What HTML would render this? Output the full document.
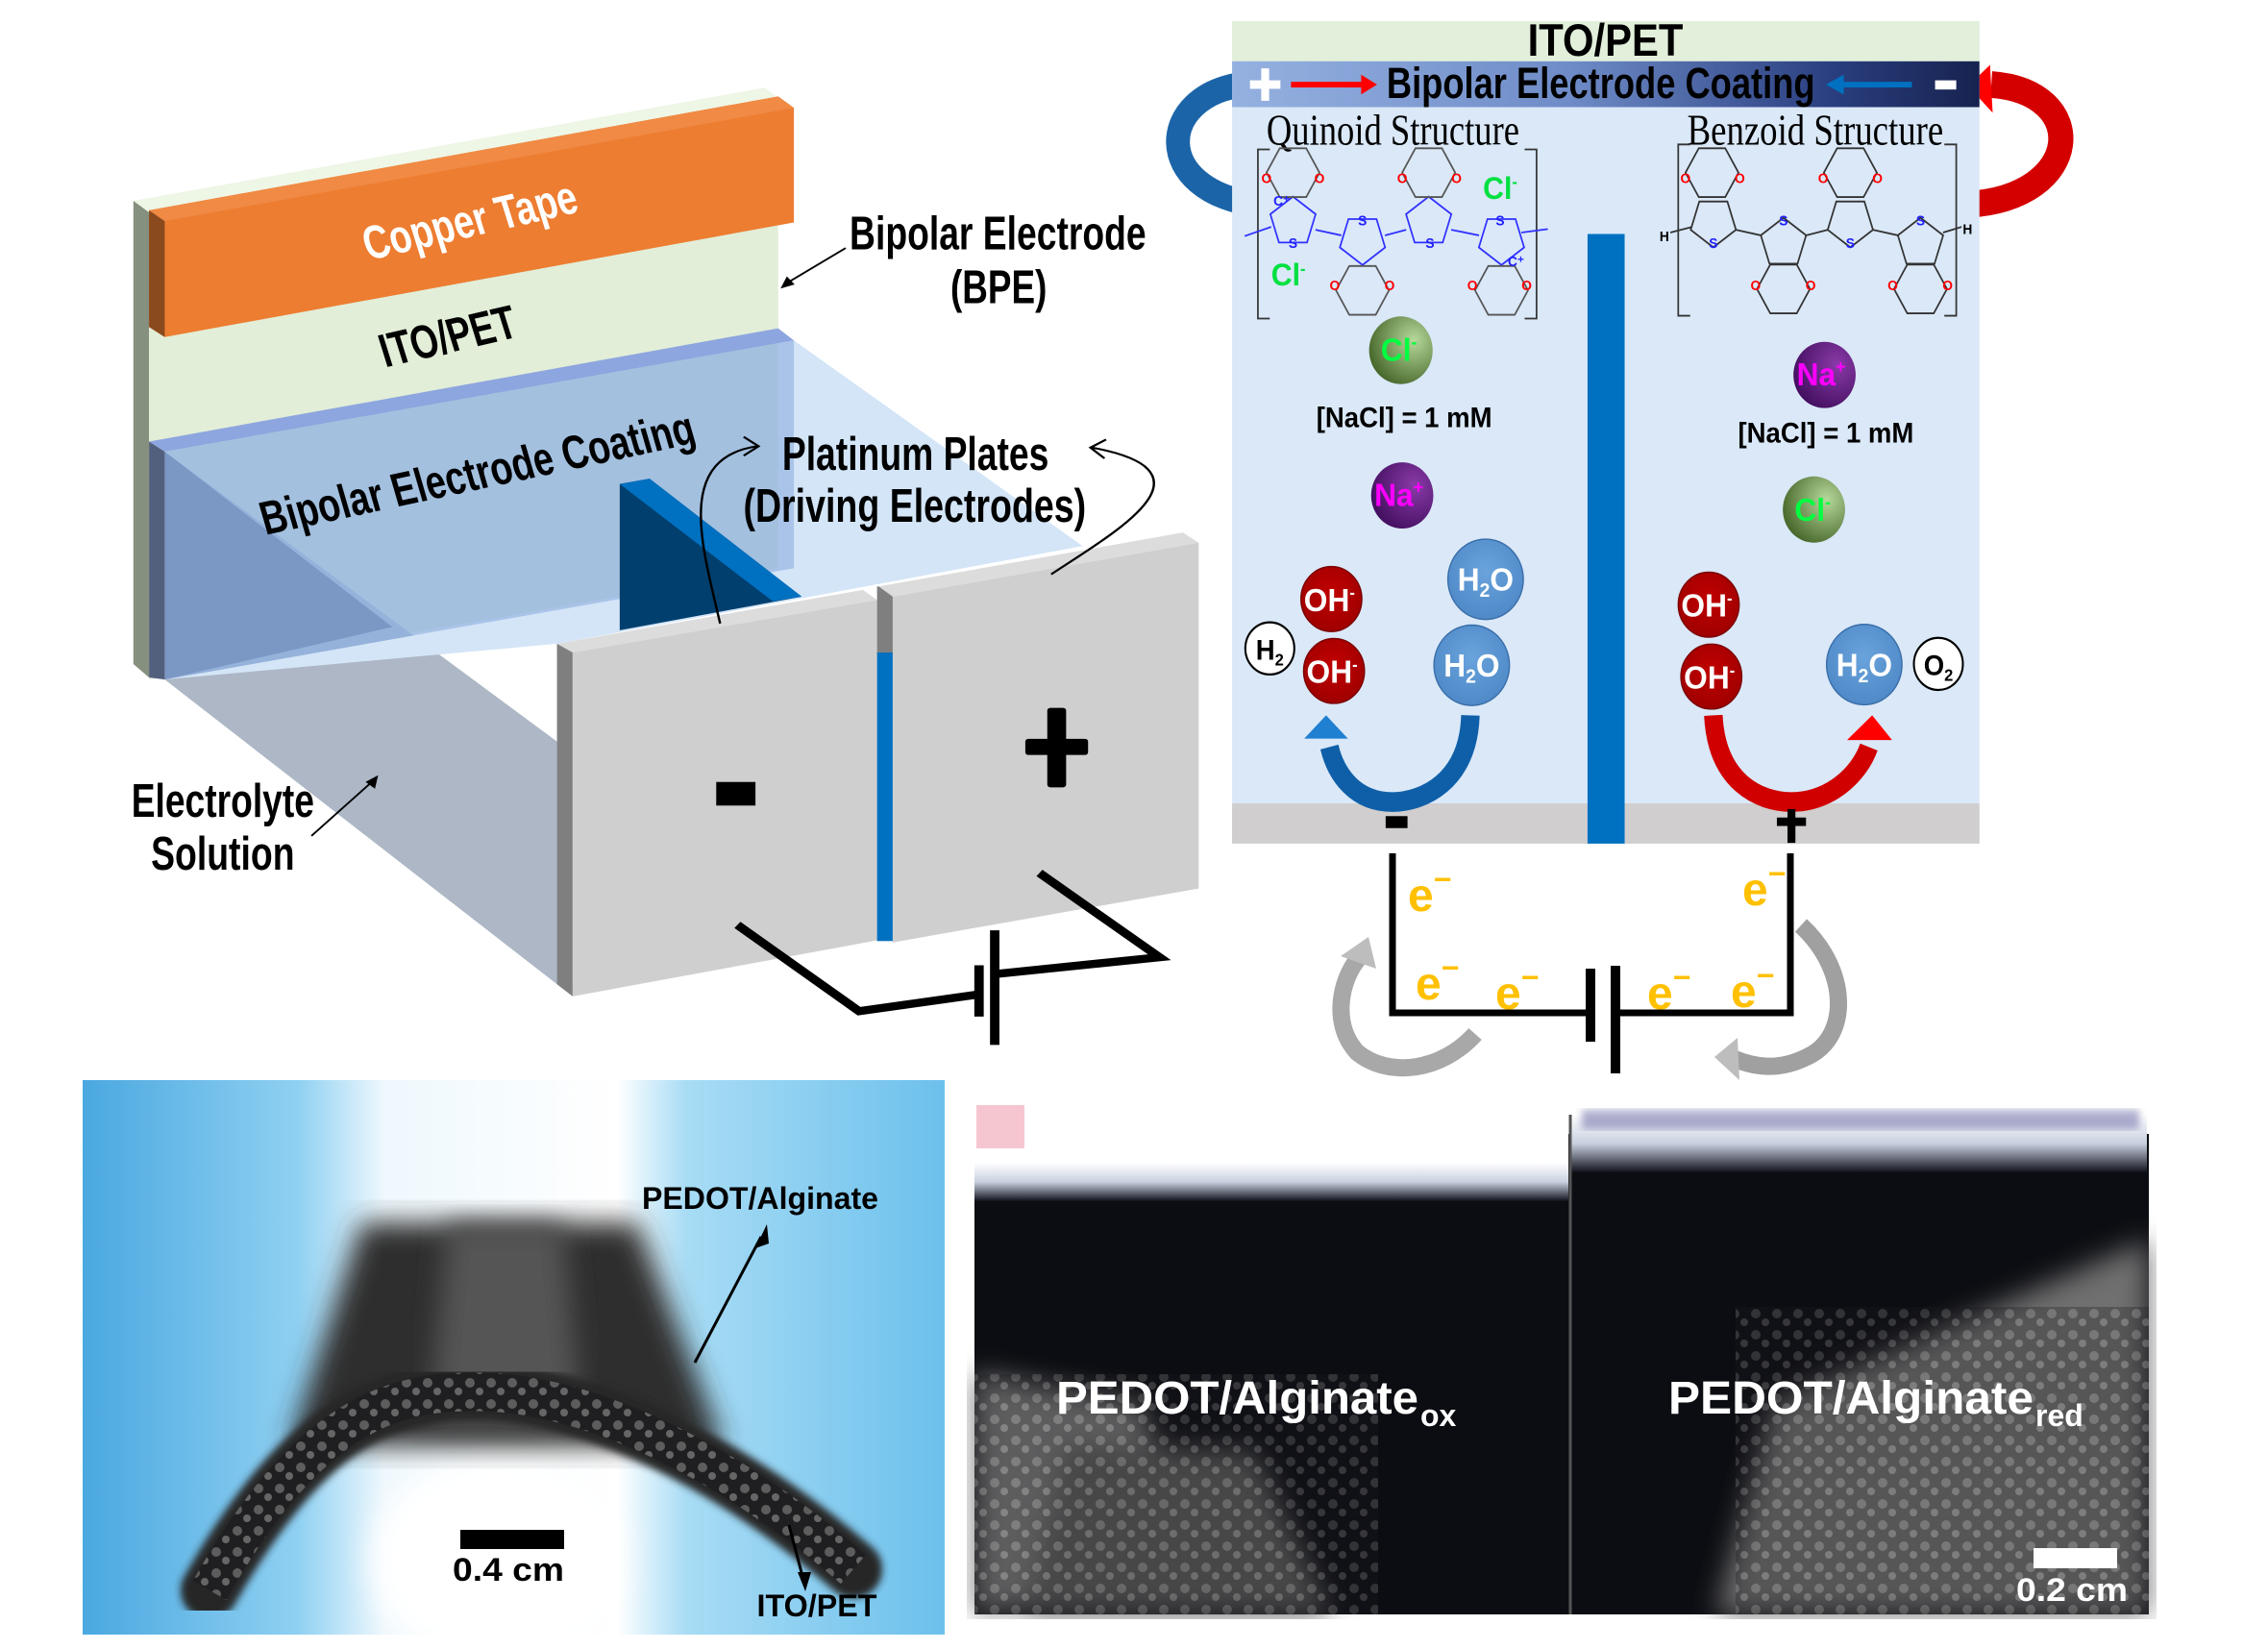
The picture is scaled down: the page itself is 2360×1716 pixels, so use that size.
<!DOCTYPE html>
<html><head><meta charset="utf-8"><style>
html,body{margin:0;padding:0;background:#fff;}
svg{display:block;}
text{font-family:"Liberation Sans",Arial,sans-serif;}
</style></head><body>
<svg width="2360" height="1716" viewBox="0 0 2360 1716" xmlns="http://www.w3.org/2000/svg">
<defs>
<linearGradient id="coat" x1="0" x2="1" y1="0" y2="0">
<stop offset="0" stop-color="#95b1e0"/><stop offset="0.45" stop-color="#6f8cc8"/><stop offset="0.8" stop-color="#2a3f80"/><stop offset="1" stop-color="#17224f"/></linearGradient>
<radialGradient id="gCl" cx="0.7" cy="0.35" r="0.8"><stop offset="0" stop-color="#b6d89a"/><stop offset="1" stop-color="#3e5e22"/></radialGradient>
<radialGradient id="gNa" cx="0.7" cy="0.35" r="0.8"><stop offset="0" stop-color="#8a3aa8"/><stop offset="1" stop-color="#3d0c5a"/></radialGradient>
<radialGradient id="gOH" cx="0.5" cy="0.4" r="0.7"><stop offset="0" stop-color="#c00000"/><stop offset="1" stop-color="#9a0000"/></radialGradient>
<radialGradient id="gH2O" cx="0.5" cy="0.4" r="0.7"><stop offset="0" stop-color="#6aa3dc"/><stop offset="1" stop-color="#4a85c4"/></radialGradient>
<linearGradient id="bgL" x1="0" x2="1"><stop offset="0" stop-color="#4aa8e0"/><stop offset="0.25" stop-color="#8fd0f2"/><stop offset="0.35" stop-color="#eef8fd"/><stop offset="0.62" stop-color="#ffffff"/><stop offset="0.7" stop-color="#a8dcf5"/><stop offset="1" stop-color="#6cc0ec"/></linearGradient>
<filter id="blur12"><feGaussianBlur stdDeviation="14"/></filter>
<filter id="blur4"><feGaussianBlur stdDeviation="4"/></filter>
<pattern id="spk" width="22" height="22" patternUnits="userSpaceOnUse">
<rect width="22" height="22" fill="#1a1a1e"/><circle cx="7" cy="7" r="5" fill="#8a8a8a"/><circle cx="17" cy="16" r="4" fill="#9a9a9a"/></pattern>
<polygon id="pent" points="0,-36 34.2,-11.1 21.2,29.1 -21.2,29.1 -34.2,-11.1" fill="none" stroke-width="2.5"/>
<polygon id="pentd" points="0,36 34.2,11.1 21.2,-29.1 -21.2,-29.1 -34.2,11.1" fill="none" stroke-width="2.5"/>
<polygon id="hex" points="40,0 20,34.6 -20,34.6 -40,0 -20,-34.6 20,-34.6" fill="none" stroke-width="2.5"/>
</defs>
<rect width="2360" height="1716" fill="#fff"/>

<!-- LEFT 3D DIAGRAM -->
<g transform="scale(0.8163,0.7015)">
<polygon points="170,298 975,130 995,148 190,315" fill="#eef6e6"/>
<polygon points="170,298 190,315 190,1005 170,985" fill="#86907e"/>
<polygon points="190,315 992,143 992,843 190,1008" fill="#e2eed8"/>
<polygon points="210,1008 710,1460 710,1100 210,670" fill="#adb7c6"/>
<polygon points="1012,505 1380,810 710,955 210,1008 1012,843" fill="#d3e5f7"/>
<polygon points="190,655 992,487 1012,505 210,670" fill="#8ea6df"/>
<polygon points="210,670 1012,505 1012,843 210,1008" fill="#8eb0e2" opacity="0.75"/>
<polygon points="190,655 210,670 210,1008 190,1005" fill="#52607e"/>
<polygon points="210,670 500,930 210,1008" fill="#5a76a8" opacity="0.45"/>
<polygon points="190,312 992,143 1012,160 1012,330 210,500 190,485" fill="#ed7d31"/>
<polygon points="190,312 210,325 210,500 190,485" fill="#8a4a1e"/>
<polygon points="190,312 992,143 1012,160 210,328" fill="#f08a44"/>
<text transform="translate(605,350) rotate(-15)" text-anchor="middle" font-size="70" font-weight="bold" fill="#fff" textLength="280" lengthAdjust="spacingAndGlyphs">Copper Tape</text>
<text transform="translate(577,522) rotate(-15)" text-anchor="middle" font-size="70" font-weight="bold" fill="#000" textLength="178" lengthAdjust="spacingAndGlyphs">ITO/PET</text>
<text transform="translate(614,725) rotate(-14)" text-anchor="middle" font-size="70" font-weight="bold" fill="#000" textLength="568" lengthAdjust="spacingAndGlyphs">Bipolar Electrode Coating</text>
<polygon points="790,718 828,710 1022,885 790,935" fill="#003f6e"/>
<polygon points="790,718 828,710 1022,885 985,892" fill="#0070c0"/>
<polygon points="710,955 1100,875 1118,890 730,968" fill="#dcdcdc"/>
<polygon points="710,955 730,968 730,1478 710,1460" fill="#7f7f7f"/>
<polygon points="730,968 1118,890 1118,1395 730,1478" fill="#d0cfcf"/>
<rect x="1118" y="870" width="20" height="100" fill="#7f7f7f"/>
<rect x="1118" y="968" width="20" height="428" fill="#0070c0"/>
<polygon points="1120,870 1508,790 1528,805 1138,885" fill="#dcdcdc"/>
<polygon points="1138,885 1528,805 1528,1318 1138,1398" fill="#d0cfcf"/>
<rect x="913" y="1160" width="50" height="35" fill="#000"/>
<rect x="1307" y="1096" width="80" height="24" rx="4" fill="#000"/>
<rect x="1335" y="1050" width="24" height="118" rx="4" fill="#000"/>
<polyline points="940,1372 1095,1500 1248,1475" fill="none" stroke="#000" stroke-width="12"/>
<polyline points="1268,1445 1478,1420 1325,1295" fill="none" stroke="#000" stroke-width="12"/>
<line x1="1248" y1="1432" x2="1248" y2="1508" stroke="#000" stroke-width="12"/>
<line x1="1268" y1="1380" x2="1268" y2="1550" stroke="#000" stroke-width="12"/>
<text x="1272" y="370" text-anchor="middle" font-size="70" font-weight="bold" textLength="378" lengthAdjust="spacingAndGlyphs">Bipolar Electrode</text>
<text x="1273" y="450" text-anchor="middle" font-size="70" font-weight="bold" textLength="123" lengthAdjust="spacingAndGlyphs">(BPE)</text>
<line x1="1078" y1="368" x2="1003" y2="420" stroke="#000" stroke-width="2.5"/>
<polygon points="995,428 1003,410 1013,422" fill="#000"/>
<text x="1167" y="697" text-anchor="middle" font-size="70" font-weight="bold" textLength="340" lengthAdjust="spacingAndGlyphs">Platinum Plates</text>
<text x="1166" y="774" text-anchor="middle" font-size="70" font-weight="bold" textLength="437" lengthAdjust="spacingAndGlyphs">(Driving Electrodes)</text>
<path d="M918,925 C895,810 860,680 965,662" fill="none" stroke="#000" stroke-width="3"/>
<polyline points="948,648 967,662 948,676" fill="none" stroke="#000" stroke-width="3"/>
<path d="M1340,852 C1420,790 1560,700 1392,664" fill="none" stroke="#000" stroke-width="3"/>
<polyline points="1410,652 1390,664 1408,680" fill="none" stroke="#000" stroke-width="3"/>
<text x="284" y="1212" text-anchor="middle" font-size="70" font-weight="bold" textLength="233" lengthAdjust="spacingAndGlyphs">Electrolyte</text>
<text x="284" y="1290" text-anchor="middle" font-size="70" font-weight="bold" textLength="183" lengthAdjust="spacingAndGlyphs">Solution</text>
<line x1="397" y1="1240" x2="474" y2="1160" stroke="#000" stroke-width="2.5"/>
<polygon points="482,1150 478,1170 466,1160" fill="#000"/>
</g>

<!-- RIGHT SCHEMATIC -->
<g transform="translate(1280,0) scale(0.6888,0.7334)">
<path d="M40,290 C-120,270 -110,135 20,120" fill="none" stroke="#1b64a8" stroke-width="36"/>
<polygon points="10,88 40,122 10,156" fill="#1b7fd0"/>
<path d="M1115,290 C1290,280 1300,130 1150,120" fill="none" stroke="#d40000" stroke-width="38"/>
<polygon points="1148,92 1115,122 1152,160" fill="#ff0000"/>
<rect x="3" y="30" width="1129" height="1167" fill="#dae8f8"/>
<rect x="3" y="30" width="1129" height="57" fill="#e2efda"/>
<text x="567" y="79" text-anchor="middle" font-size="64" font-weight="bold" textLength="235" lengthAdjust="spacingAndGlyphs">ITO/PET</text>
<rect x="3" y="87" width="1129" height="65" fill="url(#coat)"/>
<rect x="30" y="114" width="46" height="12" fill="#fff"/><rect x="47" y="97" width="12" height="46" fill="#fff"/>
<line x1="92" y1="120" x2="200" y2="120" stroke="#ff0000" stroke-width="8"/><polygon points="198,106 222,120 198,134" fill="#ff0000"/>
<text x="560" y="139" text-anchor="middle" font-size="62" font-weight="bold" textLength="647" lengthAdjust="spacingAndGlyphs">Bipolar  Electrode  Coating</text>
<line x1="925" y1="120" x2="1030" y2="120" stroke="#0070c0" stroke-width="8"/><polygon points="927,106 900,120 927,134" fill="#0070c0"/>
<rect x="1065" y="114" width="32" height="13" fill="#fff"/>
<rect x="3" y="1140" width="1129" height="57" fill="#d0cece"/>
<rect x="540" y="332" width="56" height="865" fill="#0070c0"/>
<text x="246" y="205" text-anchor="middle" font-size="62" textLength="382" lengthAdjust="spacingAndGlyphs" style="font-family:'Liberation Serif',serif">Quinoid Structure</text>
<text x="884" y="205" text-anchor="middle" font-size="62" textLength="387" lengthAdjust="spacingAndGlyphs" style="font-family:'Liberation Serif',serif">Benzoid Structure</text>
<g stroke="#3030ff" fill="none">
<polyline points="60,212 42,212 42,452 60,452" stroke="#333" stroke-width="2.5"/>
<polyline points="445,212 463,212 463,452 445,452" stroke="#333" stroke-width="2.5"/>
<use href="#pent" x="95" y="315"/><use href="#pentd" x="200" y="340"/><use href="#pent" x="300" y="315"/><use href="#pentd" x="410" y="340"/>
<use href="#hex" x="95" y="245" stroke="#555"/><use href="#hex" x="300" y="245" stroke="#555"/>
<use href="#hex" x="200" y="412" stroke="#555"/><use href="#hex" x="410" y="412" stroke="#555"/>
<line x1="22" y1="335" x2="62" y2="322" stroke-width="2.5"/><line x1="440" y1="330" x2="480" y2="325" stroke-width="2.5"/>
<line x1="129" y1="326" x2="168" y2="334" stroke-width="2.5"/><line x1="234" y1="334" x2="266" y2="326" stroke-width="2.5"/><line x1="334" y1="326" x2="376" y2="334" stroke-width="2.5"/>
</g>
<g font-size="20" font-weight="bold" fill="#ff0000" text-anchor="middle">
<text x="55" y="260">O</text><text x="135" y="260">O</text><text x="260" y="260">O</text><text x="342" y="260">O</text>
<text x="158" y="412">O</text><text x="241" y="412">O</text><text x="366" y="412">O</text><text x="448" y="412">O</text></g>
<g font-size="20" font-weight="bold" fill="#2020ff" text-anchor="middle">
<text x="95" y="352">S</text><text x="200" y="320">S</text><text x="302" y="352">S</text><text x="408" y="320">S</text>
<text x="78" y="292">C⁺</text><text x="432" y="378">C⁺</text></g>
<text x="408" y="282" text-anchor="middle" font-size="44" font-weight="bold" fill="#00e040">Cl<tspan font-size="24" dy="-16">-</tspan></text>
<text x="88" y="405" text-anchor="middle" font-size="44" font-weight="bold" fill="#00e040">Cl<tspan font-size="24" dy="-16">-</tspan></text>
<g stroke="#333" fill="none">
<polyline points="695,205 677,205 677,448 695,448" stroke-width="2.5"/>
<polyline points="1079,205 1097,205 1097,448 1079,448" stroke-width="2.5"/>
<use href="#pentd" x="730" y="315"/><use href="#pent" x="836" y="345"/><use href="#pentd" x="937" y="315"/><use href="#pent" x="1043" y="345"/>
<use href="#hex" x="728" y="245"/><use href="#hex" x="937" y="245"/><use href="#hex" x="836" y="410"/><use href="#hex" x="1043" y="410"/>
<line x1="665" y1="330" x2="698" y2="322" stroke-width="2.5"/><line x1="1077" y1="330" x2="1105" y2="322" stroke-width="2.5"/>
<line x1="764" y1="326" x2="802" y2="334" stroke-width="2.5"/><line x1="870" y1="334" x2="903" y2="326" stroke-width="2.5"/><line x1="971" y1="326" x2="1009" y2="334" stroke-width="2.5"/>
</g>
<g font-size="20" font-weight="bold" fill="#ff0000" text-anchor="middle">
<text x="688" y="260">O</text><text x="770" y="260">O</text><text x="896" y="260">O</text><text x="978" y="260">O</text>
<text x="794" y="412">O</text><text x="877" y="412">O</text><text x="1001" y="412">O</text><text x="1084" y="412">O</text></g>
<g font-size="20" font-weight="bold" fill="#2020ff" text-anchor="middle">
<text x="730" y="352">S</text><text x="836" y="320">S</text><text x="937" y="352">S</text><text x="1043" y="320">S</text></g>
<text x="656" y="342" text-anchor="middle" font-size="20" font-weight="bold">H</text>
<text x="1114" y="332" text-anchor="middle" font-size="20" font-weight="bold">H</text>
<g font-weight="bold" text-anchor="middle">
<circle cx="258" cy="497" r="48" fill="url(#gCl)"/><text x="255" y="512" font-size="46" fill="#00ff40">Cl<tspan font-size="26" dy="-18">-</tspan></text>
<text x="263" y="606" font-size="40" fill="#000">[NaCl] = 1 mM</text>
<circle cx="260" cy="703" r="47" fill="url(#gNa)"/><text x="255" y="718" font-size="46" fill="#ff00ff">Na<tspan font-size="26" dy="-18">+</tspan></text>
<circle cx="898" cy="532" r="47" fill="url(#gNa)"/><text x="893" y="547" font-size="46" fill="#ff00ff">Na<tspan font-size="26" dy="-18">+</tspan></text>
<text x="900" y="628" font-size="40" fill="#000">[NaCl] = 1 mM</text>
<circle cx="882" cy="723" r="47" fill="url(#gCl)"/><text x="880" y="739" font-size="46" fill="#00ff40">Cl<tspan font-size="26" dy="-18">-</tspan></text>
<g fill="url(#gOH)" stroke="#7a0000" stroke-width="2">
<circle cx="153" cy="850" r="46"/><circle cx="157" cy="952" r="46"/><circle cx="723" cy="858" r="46"/><circle cx="727" cy="960" r="46"/></g>
<g font-size="46" fill="#fff">
<text x="150" y="867">OH<tspan font-size="24" dy="-18">-</tspan></text><text x="154" y="969">OH<tspan font-size="24" dy="-18">-</tspan></text>
<text x="720" y="875">OH<tspan font-size="24" dy="-18">-</tspan></text><text x="724" y="977">OH<tspan font-size="24" dy="-18">-</tspan></text></g>
<g fill="url(#gH2O)" stroke="#3a6ea8" stroke-width="2">
<circle cx="386" cy="822" r="57"/><circle cx="365" cy="944" r="57"/><circle cx="958" cy="943" r="57"/></g>
<g font-size="46" fill="#fff">
<text x="386" y="838">H<tspan font-size="28" dy="9">2</tspan><tspan dy="-9">O</tspan></text>
<text x="365" y="960">H<tspan font-size="28" dy="9">2</tspan><tspan dy="-9">O</tspan></text>
<text x="958" y="959">H<tspan font-size="28" dy="9">2</tspan><tspan dy="-9">O</tspan></text></g>
<circle cx="60" cy="920" r="37" fill="#fff" stroke="#000" stroke-width="3"/>
<text x="60" y="936" font-size="40">H<tspan font-size="24" dy="8">2</tspan></text>
<circle cx="1070" cy="942" r="37" fill="#fff" stroke="#000" stroke-width="3"/>
<text x="1070" y="958" font-size="40">O<tspan font-size="24" dy="8">2</tspan></text>
</g>
<path d="M363,1015 C360,1110 290,1138 245,1138 C190,1138 160,1100 150,1060" fill="none" stroke="#0f5fa8" stroke-width="28"/>
<polygon points="112,1048 145,1015 178,1048" fill="#1f7fd0"/>
<path d="M730,1015 C735,1110 800,1138 848,1138 C905,1138 950,1100 965,1060" fill="none" stroke="#d00000" stroke-width="28"/>
<polygon points="932,1050 970,1015 1000,1050" fill="#ff0000"/>
<rect x="235" y="1158" width="33" height="17" fill="#000"/>
<rect x="826" y="1160" width="44" height="12" fill="#000"/><rect x="842" y="1148" width="12" height="48" fill="#000"/>
</g>

<!-- circuit -->
<g>
<polyline points="1449,888 1449,1054 1652,1054" fill="none" stroke="#000" stroke-width="7"/>
<polyline points="1684,1054 1863,1054 1863,888" fill="none" stroke="#000" stroke-width="7"/>
<line x1="1655" y1="1008" x2="1655" y2="1084" stroke="#000" stroke-width="10"/>
<line x1="1681" y1="1005" x2="1681" y2="1117" stroke="#000" stroke-width="10"/>
<g font-size="48" font-weight="bold" fill="#ffc000">
<text x="1465" y="948">e<tspan font-size="32" dy="-22">−</tspan></text>
<text x="1813" y="942">e<tspan font-size="32" dy="-22">−</tspan></text>
<text x="1473" y="1040">e<tspan font-size="32" dy="-22">−</tspan></text>
<text x="1556" y="1050">e<tspan font-size="32" dy="-22">−</tspan></text>
<text x="1714" y="1050">e<tspan font-size="32" dy="-22">−</tspan></text>
<text x="1801" y="1048">e<tspan font-size="32" dy="-22">−</tspan></text></g>
<path d="M1535,1076 C1500,1115 1445,1122 1412,1095 C1385,1065 1395,1020 1413,998" fill="none" stroke="#a8a8a8" stroke-width="18"/>
<polygon points="1395,995 1424,975 1432,1008" fill="#bdbdbd"/>
<path d="M1874,963 C1925,1010 1925,1080 1880,1100 C1850,1115 1825,1110 1805,1102" fill="none" stroke="#a0a0a0" stroke-width="18"/>
<polygon points="1808,1080 1784,1100 1810,1124" fill="#bdbdbd"/>
</g>

<!-- LEFT PHOTO -->
<svg x="86" y="1124" width="897" height="577" viewBox="0 0 897 577">
<rect width="897" height="577" fill="url(#bgL)"/>
<ellipse cx="430" cy="500" rx="130" ry="110" fill="#fff" filter="url(#blur12)"/>
<polygon points="290,148 577,148 667,381 215,381" fill="#2e2e2e" filter="url(#blur12)"/>
<polygon points="380,150 500,150 520,360 360,360" fill="#555" filter="url(#blur12)"/>
<path d="M132,531 C240,340 330,320 430,325 C560,335 700,420 802,509" fill="none" stroke="#262626" stroke-width="60" stroke-linecap="round" filter="url(#blur4)"/>
<path d="M132,531 C240,340 330,320 430,325 C560,335 700,420 802,509" fill="none" stroke="url(#spk)" stroke-width="40" opacity="0.55"/>
<line x1="637" y1="294" x2="706" y2="163" stroke="#000" stroke-width="3"/><polygon points="712,150 700,175 714,170" fill="#000"/>
<line x1="735" y1="463" x2="750" y2="520" stroke="#000" stroke-width="3"/><polygon points="752,532 744,512 758,512" fill="#000"/>
<text x="705" y="134" text-anchor="middle" font-size="32" font-weight="bold" textLength="246" lengthAdjust="spacingAndGlyphs">PEDOT/Alginate</text>
<rect x="393" y="468" width="108" height="20" fill="#000"/>
<text x="443" y="521" text-anchor="middle" font-size="34" font-weight="bold" textLength="116" lengthAdjust="spacingAndGlyphs">0.4 cm</text>
<text x="764" y="558" text-anchor="middle" font-size="32" font-weight="bold" textLength="125" lengthAdjust="spacingAndGlyphs">ITO/PET</text>
</svg>

<!-- RIGHT PHOTO -->
<svg x="1006" y="1140" width="1238" height="545" viewBox="0 0 1238 545">
<defs><linearGradient id="topfade" x1="0" y1="0" x2="0" y2="1"><stop offset="0" stop-color="#fff"/><stop offset="0.5" stop-color="#c8d0e0"/><stop offset="1" stop-color="#10121c"/></linearGradient></defs>
<rect x="8" y="40" width="1222" height="500" fill="#0c0d12"/>
<rect x="8" y="10" width="618" height="70" fill="#fff"/>
<rect x="8" y="70" width="618" height="40" fill="url(#topfade)"/>
<rect x="628" y="20" width="600" height="60" fill="url(#topfade)"/>
<rect x="10" y="10" width="50" height="45" fill="#f0a0b0" opacity="0.6"/>
<rect x="640" y="15" width="580" height="20" fill="#6060a0" opacity="0.5" filter="url(#blur4)"/>
<g filter="url(#blur12)">
<polygon points="8,290 180,320 250,500 8,540" fill="#7a7a7a"/>
<polygon points="100,360 300,370 380,540 60,540" fill="#5a5a5a"/>
<polygon points="840,320 1230,150 1230,540 780,540" fill="#707070"/>
</g>
<rect x="8" y="290" width="420" height="250" fill="url(#spk)" opacity="0.3"/>
<rect x="800" y="220" width="430" height="320" fill="url(#spk)" opacity="0.3"/>
<line x1="628" y1="20" x2="628" y2="540" stroke="#555" stroke-width="3"/>
<text x="93" y="331" font-size="48" font-weight="bold" fill="#fff" textLength="377" lengthAdjust="spacingAndGlyphs">PEDOT/Alginate</text>
<text x="472" y="344" font-size="32" font-weight="bold" fill="#fff">ox</text>
<text x="730" y="331" font-size="48" font-weight="bold" fill="#fff" textLength="380" lengthAdjust="spacingAndGlyphs">PEDOT/Alginate</text>
<text x="1112" y="344" font-size="32" font-weight="bold" fill="#fff">red</text>
<rect x="1110" y="471" width="87" height="21" fill="#fff"/>
<text x="1150" y="526" text-anchor="middle" font-size="34" font-weight="bold" fill="#fff" textLength="116" lengthAdjust="spacingAndGlyphs">0.2 cm</text>
</svg>
</svg>
</body></html>
